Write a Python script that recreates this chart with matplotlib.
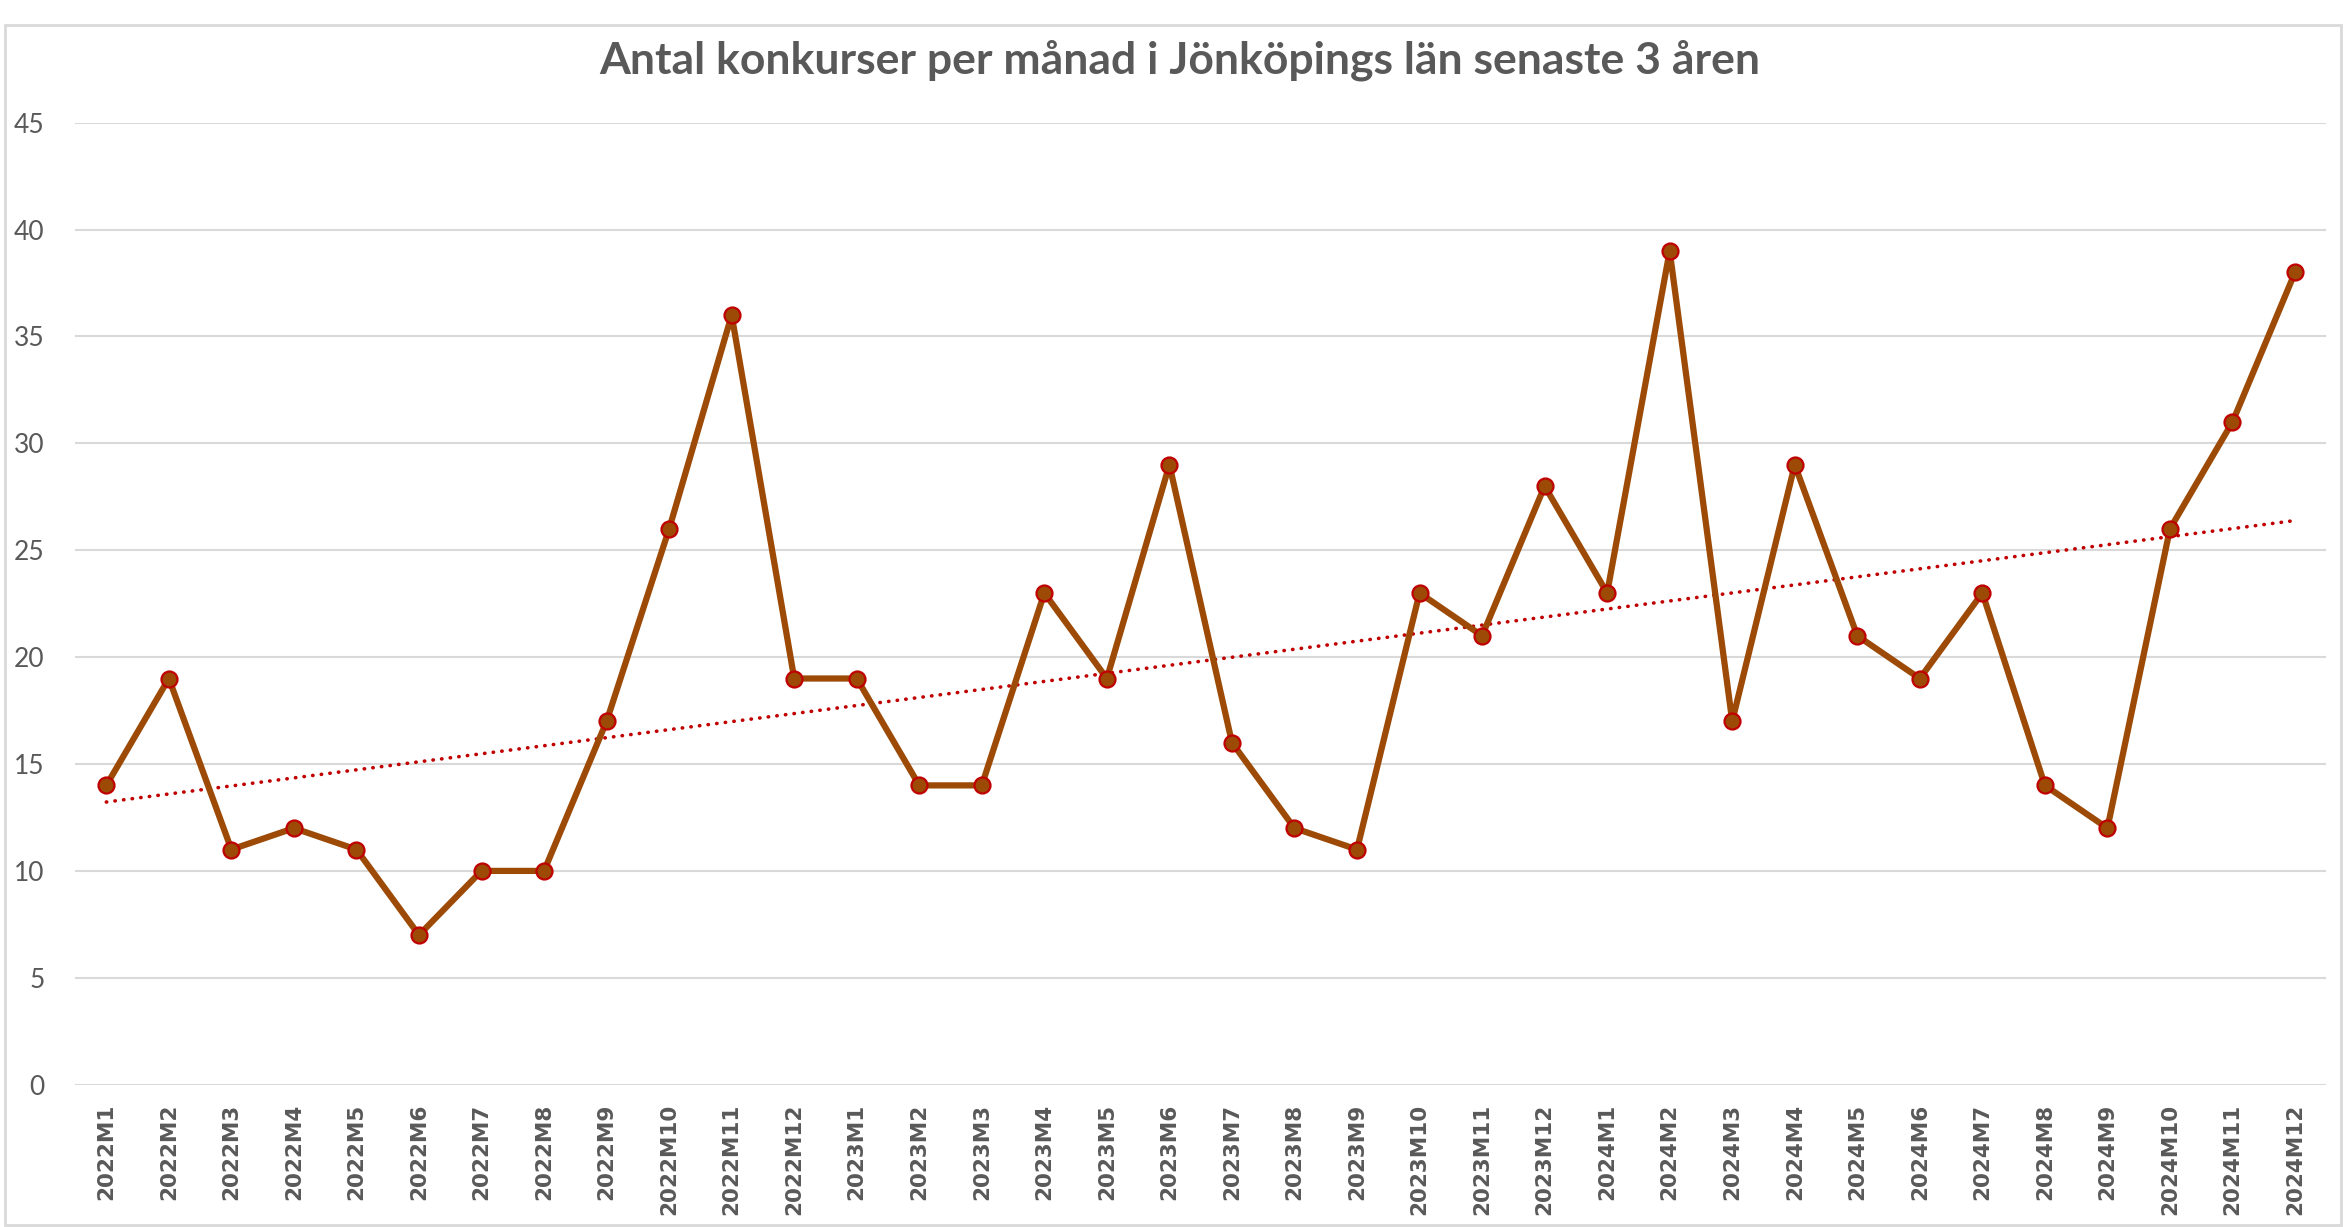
"""Monthly bankruptcies in Jönköping county, 2022-2024, with linear trend."""

import matplotlib

matplotlib.use("Agg")
import matplotlib.pyplot as plt
import numpy as np
from matplotlib.patches import Rectangle

YEARS = ["2022", "2023", "2024"]
MONTHS = [f"M{m}" for m in range(1, 13)]
CATEGORIES = [y + m for y in YEARS for m in MONTHS]

COUNTS_2022 = [14, 19, 11, 12, 11, 7, 10, 10, 17, 26, 36, 19]
COUNTS_2023 = [19, 14, 14, 23, 19, 29, 16, 12, 11, 23, 21, 28]
COUNTS_2024 = [23, 39, 17, 29, 21, 19, 23, 14, 12, 26, 31, 38]
COUNTS = COUNTS_2022 + COUNTS_2023 + COUNTS_2024

Y_TICKS = [0, 5, 10, 15, 20, 25, 30, 35, 40, 45]
TITLE = "Antal konkurser per månad i Jönköpings län senaste 3 åren"

TEXT_COLOR = "#595959"
LINE_COLOR = "#9C4A06"
TREND_COLOR = "#C00000"
GRID_COLOR = "#D9D9D9"

plt.rcParams["font.family"] = ["Lato", "DejaVu Sans"]

fig = plt.figure(figsize=(23.46, 12.27), dpi=100)
ax = fig.add_axes([0.032, 0.116, 0.9596, 0.784])

x = np.arange(len(CATEGORIES))
ax.plot(
    x, COUNTS, color=LINE_COLOR, linewidth=4.5, marker="o", markersize=11.5,
    markerfacecolor=LINE_COLOR, markeredgecolor=TREND_COLOR, markeredgewidth=1.6,
    zorder=3,
)

# linear trend like Excel's trendline
slope, intercept = np.polyfit(x, COUNTS, 1)
ax.plot(x, slope * x + intercept, color=TREND_COLOR, linewidth=2.6,
        linestyle=(0, (0.1, 2.3)), dash_capstyle="round", zorder=2)

ax.set_xlim(-0.5, len(CATEGORIES) - 0.5)
ax.set_ylim(0, 45)
ax.set_yticks(Y_TICKS)
ax.set_xticks(x)
ax.set_xticklabels(CATEGORIES, rotation=90)
for lbl in ax.get_xticklabels():
    lbl.set_family("DejaVu Sans")
    lbl.set_fontweight("bold")
    lbl.set_fontsize(15.5)
    lbl.set_color(TEXT_COLOR)
for lbl in ax.get_yticklabels():
    lbl.set_color(TEXT_COLOR)
    lbl.set_fontsize(19)
ax.tick_params(axis="both", length=0)
ax.tick_params(axis="x", pad=14)
ax.tick_params(axis="y", pad=22)
ax.grid(axis="y", color=GRID_COLOR, linewidth=1.5)
ax.set_axisbelow(True)
for spine in ax.spines.values():
    spine.set_visible(False)

fig.text(0.503, 0.951, TITLE, ha="center", va="center", fontsize=32,
         fontweight="bold", color=TEXT_COLOR)

# chart area border
fig.patches.append(Rectangle((0.002, 0.002), 0.996, 0.978, transform=fig.transFigure,
                             fill=False, edgecolor=GRID_COLOR, linewidth=2))

fig.savefig("out.png", dpi=100)
